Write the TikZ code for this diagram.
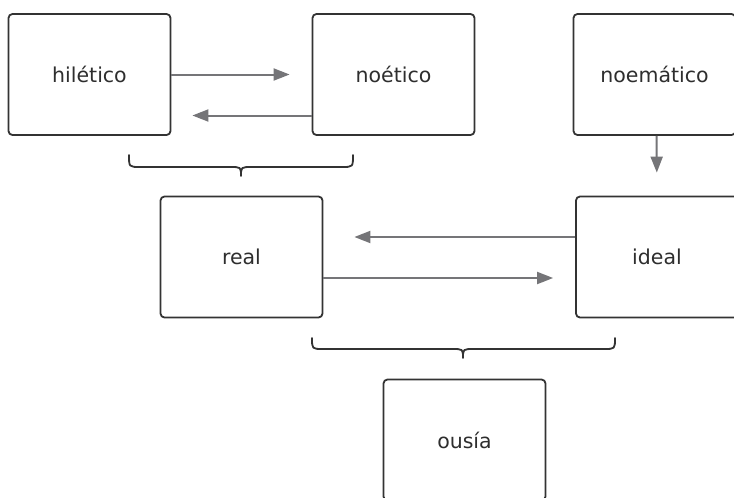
\documentclass[tikz,border=0pt]{standalone}
\usepackage{fontspec}
\setmainfont{DejaVu Sans}
\usetikzlibrary{arrows.meta}
\definecolor{boxline}{HTML}{333333}
\definecolor{arrowgray}{HTML}{757578}
\definecolor{txt}{HTML}{2E2E2E}
\begin{document}
\begin{tikzpicture}[x=1pt,y=-1pt,
  box/.style={draw=boxline, line width=1.8pt, rounded corners=4pt, fill=white,
    minimum width=162pt, minimum height=121pt, inner sep=0pt,
    text=txt, font=\fontsize{20.5}{24}\selectfont},
  link/.style={draw=arrowgray, line width=2pt,
    -{Triangle[length=16pt,width=12pt]}},
  bracestroke/.style={draw=boxline, line width=1.8pt, line cap=round, line join=round}]
  \clip (0,0) rectangle (734,498);
  \fill[white] (0,0) rectangle (734,498);

  % boxes
  \node[box] (hil)   at (89.5,74.5)  {hilético};
  \node[box] (noe)   at (393.5,74.5) {noético};
  \node[box] (noem)  at (654.5,74.5) {noemático};
  \node[box] (real)  at (241.5,257)  {real};
  \node[box] (ideal) at (657,257)    {ideal};
  \node[box] (ousia) at (464.5,440)  {ousía};

  % arrows between boxes
  \draw[link, shorten >=22pt] (hil.east) -- (noe.west);
  \draw[link, shorten >=21pt] ([yshift=-41pt]noe.west) -- ([yshift=-41pt]hil.east);
  \draw[link, shorten >=23pt] ([xshift=2pt]noem.south) -- ([xshift=0pt]ideal.north);
  \draw[link, shorten >=31pt] ([yshift=20pt]ideal.west) -- ([yshift=20pt]real.east);
  \draw[link, shorten >=22pt] ([yshift=-21pt]real.east) -- ([yshift=-21pt]ideal.west);

  % brace under hilético / noético
  \draw[bracestroke] (129,155) .. controls (129,167) .. (140,167) -- (230,167)
    .. controls (241,167) .. (241,176) .. controls (241,167) .. (252,167)
    -- (342,167) .. controls (353,167) .. (353,155);
  % brace under real / ideal
  \draw[bracestroke] (312,338) .. controls (312,349) .. (323,349) -- (452,349)
    .. controls (463,349) .. (463,358) .. controls (463,349) .. (474,349)
    -- (604,349) .. controls (615,349) .. (615,338);
\end{tikzpicture}
\end{document}
